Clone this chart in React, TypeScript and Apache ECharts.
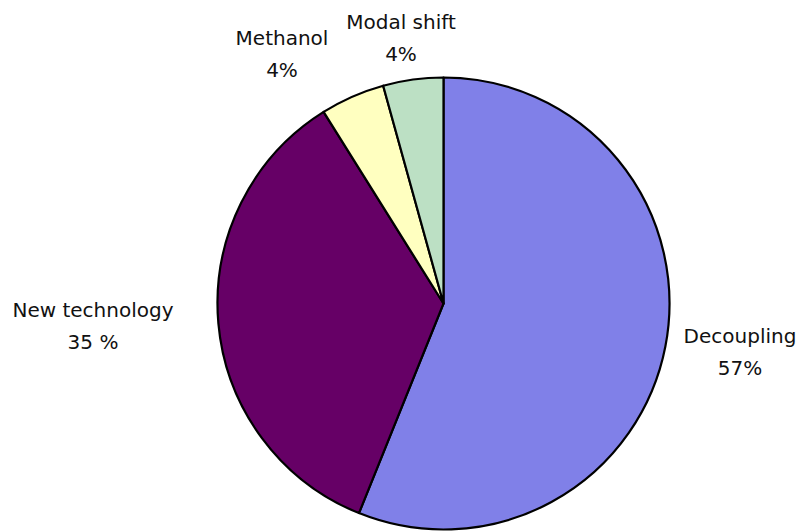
import React, { useEffect, useRef } from "react";
import * as echarts from "echarts";

const categories = ["Decoupling", "New technology", "Methanol", "Modal shift"];
const values = [56.1, 35.0, 4.6, 4.3];
const percentLabels = ["57%", "35 %", "4%", "4%"];
const colors = ["#8080E8", "#660066", "#FFFFC0", "#BCE0C4"];

// label block centers (layout)
const labelPos: [number, number][] = [
  [740, 352],
  [93, 326],
  [282, 54],
  [401, 38],
];

export default function App() {
  const ref = useRef<HTMLDivElement>(null);
  useEffect(() => {
    document.body.style.margin = "0";
    const chart = echarts.init(ref.current!, null, { renderer: "svg" });
    chart.setOption({
      animation: false,
      backgroundColor: "#ffffff",
      series: [
        {
          type: "pie",
          center: [443.5, 303.5],
          radius: 226,
          startAngle: 90,
          clockwise: true,
          silent: true,
          itemStyle: { borderColor: "#000000", borderWidth: 2.2 },
          label: {
            show: true,
            position: "outside",
            color: "#111111",
            fontFamily: "DejaVu Sans",
            fontSize: 20,
            lineHeight: 32,
            align: "center",
            overflow: "none",
            width: 200,
            formatter: (p: any) => `${categories[p.dataIndex]}\n${percentLabels[p.dataIndex]}`,
          },
          labelLine: { show: false },
          labelLayout: (p: any) => ({
            x: labelPos[p.dataIndex][0],
            y: labelPos[p.dataIndex][1],
            align: "center",
            verticalAlign: "middle",
          }),
          data: categories.map((name, i) => ({
            name,
            value: values[i],
            itemStyle: { color: colors[i] },
          })),
        },
      ],
    });
    return () => chart.dispose();
  }, []);
  return <div ref={ref} style={{ width: 802, height: 531 }} />;
}
